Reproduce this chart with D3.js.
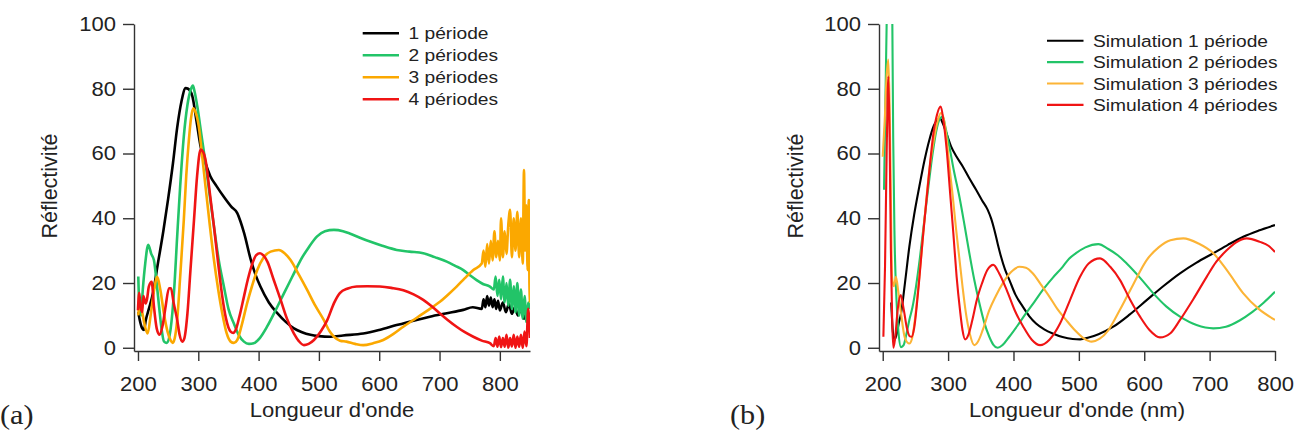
<!DOCTYPE html>
<html>
<head>
<meta charset="utf-8">
<script src="https://cdn.jsdelivr.net/npm/d3@7"></script>
<style>
  html, body { margin: 0; padding: 0; background: #fff; }
  svg { display: block; }
  text { font-family: "Liberation Sans", Arial, sans-serif; fill: #222; }
</style>
</head>
<body>
<svg id="chart" width="1315" height="441"></svg>
<script>
// ---------- DATA (wavelength nm, reflectivity %) ----------
const xTicksA = [200, 300, 400, 500, 600, 700, 800];
const xTicksB = [200, 300, 400, 500, 600, 700, 800];
const yTicks = [0, 20, 40, 60, 80, 100];

const legendA = ["1 période", "2 périodes", "3 périodes", "4 périodes"];
const legendB = ["Simulation 1 période", "Simulation 2 périodes", "Simulation 3 périodes", "Simulation 4 périodes"];
const colorsA = ["#000000", "#22c468", "#fba800", "#f01414"];
const colorsB = ["#000000", "#22c468", "#fcb436", "#f01414"];

const exp1 = [[200.5,11],[203,8.5],[207,6],[210,5.5],[213,8.6],[218,12],[225,17],[233,26],[242,36],[250,46],[258,57],[265,68],[272,76],[279,80.2],[283,80],[290,77.8],[297,70],[304,62],[312,57],[320,53],[330,50],[342,46.7],[355,43.5],[364.6,41.6],[370,39],[376,35.4],[387,27.2],[395,22.5],[403,18.9],[417,14],[431,10.7],[445,8],[458.6,6],[472,4.8],[486,4],[500,3.6],[519,3.4],[540,3.8],[573.5,4.4],[600,5.5],[628.8,7],[655,8.3],[684,9.6],[710,10.6],[739.4,11.7],[755,12.5],[770,12],[773,15],[776,12.5],[779,16],[782,13],[785,15.5],[788,12.5],[791,15],[794,12],[797,14.5],[800,11.5],[805,14],[810,11],[815,13.5],[820,10.5],[825,12.5],[830,10],[835,12],[840,9],[845,11],[850,8]];

const exp2 = [[200.5,22],[202,14],[205,10],[208,18],[212,26],[217,31.8],[222,29],[226.5,27],[231,20],[235,12.7],[239,6],[243,2],[248,1.5],[254,5.6],[260,18],[265,34.4],[270,50],[276,65.3],[282,75],[288,80],[291,81],[294,79],[298.4,74.5],[305,66],[312,57],[319,47],[326,37.4],[334,27],[342.6,18.8],[350,12],[359,7.5],[367,4],[375.7,1.9],[384,1.2],[392,1.4],[402,3],[414,6.5],[428,11.5],[442,16.8],[456,22],[469.7,27.1],[483,31],[497,34.4],[510,36],[525,36.4],[540,36],[551,35.3],[568,34],[584.6,32.8],[605,31.5],[629,30.2],[650,29.7],[673,29.2],[692,28],[712,26.6],[726,25.3],[739.4,24],[751,22.3],[761.5,20.9],[772,19.7],[783.6,18.9],[790,18],[793,22],[796,16],[799,21],[802,15],[805,22],[808,14],[811,20],[814,13],[817,21],[820,12],[823,19],[826,11],[829,20],[832,10],[835,18],[838,9],[841,16],[844,8],[847,14],[850,12]];

const exp3 = [[200.5,10],[203,14],[206,12],[210,8],[215.9,4.4],[221,10],[226,17],[232,21.9],[237,18],[243,10.6],[249,5],[254,2.4],[257.5,1.5],[261,3],[265,8.6],[270,22],[276,39.5],[280,53],[284.4,64.2],[288,71],[291.5,74],[295,73],[300.8,68.4],[306,60],[312,49.8],[319,38],[326,27.1],[333,18],[339.8,10.6],[347,4.5],[353.6,1.9],[359,1.5],[364.6,2.4],[372,7],[381,13.8],[389,19],[397.8,24],[408,27.8],[419.9,29.7],[433.7,30.2],[443,29.2],[453,27.1],[467,22.5],[480.7,17.8],[494,13],[508,8.6],[518,5],[525,3.4],[535,2.2],[545.6,1.9],[560,1.2],[573.5,0.8],[590,1.4],[606.7,2.4],[623,4.2],[639.9,6.5],[656,8.5],[673,10.6],[687,12.4],[700.6,14.2],[714,16.4],[728.3,18.9],[742,21.5],[756,24],[770,26],[773,30],[776,25],[779,32],[782,26],[785,33],[788,27],[791,36],[794,28],[797,33],[800,27],[802,40],[805,28],[808,36],[811,29],[814,38],[817,42.6],[820,28],[823,40],[826,30],[829,42],[832,28],[835,40],[838,26],[840,54.9],[842,30],[844,44],[846,24],[848,45.6],[849,20],[850,14]];

const exp4 = [[200,11.6],[202,17],[204,13],[207,11],[209,16],[212.7,13.7],[215,15],[218,18.9],[222.7,20.4],[226.5,12.7],[231,6],[236,4],[241,7],[246,13],[251.4,18.4],[254.7,18.4],[259,14],[265,8.6],[269,4],[273.4,1.9],[277,3],[282,10.6],[287,24],[292.9,39.5],[298,53],[303.8,61.2],[308,60.5],[312,58],[319,48],[326,37.4],[333,26],[339.8,15.8],[346,9],[353.6,5],[358,4.6],[362,5.5],[368,9.5],[375.7,15.8],[382,21],[389.6,26],[396,28.6],[402.3,29.2],[408,28.5],[414.5,26.6],[425,21],[436.6,14.8],[447,9],[458.6,4.4],[467,2],[475.2,0.8],[483,1.2],[491.8,2.4],[503,5],[514,8.6],[525,13.8],[534.7,16.9],[548,18.3],[562.4,18.9],[580,19],[601,18.9],[620,18.5],[640,17.8],[657,16.5],[673,14.8],[687,12.8],[700.6,10.6],[714,8.5],[728.3,6.5],[742,4.8],[756,3.4],[770,2.2],[783.6,1.4],[790,0.5],[793,3],[796,0.3],[799,3.5],[802,0.2],[805,3],[808,0.3],[811,4],[814,0],[817,3],[820,0.4],[823,4],[826,0],[829,3.5],[832,0.3],[835,4],[838,0],[841,5],[844,0.5],[847,12],[850,3]];

const sim1 = [[213,14],[215.5,5],[218,2.5],[221,4],[225,8],[228,10.6],[234,20],[240.7,31.2],[248,41],[256,49.8],[264,58],[271.3,64.2],[278,68.5],[284,70.4],[288,70.8],[291.7,69.4],[297,66.5],[304.5,62.2],[313,59],[322.4,56],[332,52.5],[342.8,48.8],[352,45.5],[360.6,42.6],[366,39.8],[370.8,36.4],[376,32],[381,28.1],[387,24.2],[393.8,20.9],[403,16.4],[414.2,12.7],[424,9.8],[434.5,7.5],[447,5.7],[460,4.4],[475,3.3],[490.6,2.7],[501.9,2.6],[515,3.2],[530,4.2],[552.7,6.5],[578,10.3],[603.7,14.7],[629,19],[654.7,23],[680,26.3],[705.6,29.2],[728,31.8],[751.5,34.3],[775,36.2],[800,37.9]];

const sim2 = [[202,48.8],[204,75],[206,100],[208,130],[210,140],[212.5,130],[214.7,100],[216,65],[218,35],[221,15],[224,5],[228,0.2],[232,0.8],[236,4],[240.7,8.6],[245.5,12.5],[250.9,18.9],[257,28],[263.7,39.5],[270,50],[276.4,60.1],[282,67],[286.6,70.4],[291.7,71.4],[296,68],[301.9,62.2],[309,54.5],[317.2,46.7],[325,38],[332.5,29.2],[340,21],[347.8,13.8],[355,8],[363,3.4],[369,1],[375.8,0],[383,0.8],[393.6,3.4],[406,6.8],[419,10.6],[432,14.2],[444.6,17.8],[460,21.6],[475.2,25],[485,27.5],[495.6,29.2],[510,31],[529.8,32],[545,30.5],[560,28.5],[573.2,26],[594,21.5],[613.9,16.8],[634,12.7],[654.7,9.6],[680,7],[705.6,6],[725,6.5],[746.5,8.5],[765,11],[783,14],[800,17.3]];

const sim3 = [[200,59],[203,70],[206,84],[208.6,89],[210.5,75],[212.5,45],[214.2,22],[217,19],[220.3,21.9],[224,17],[228,10.6],[234,3],[240.7,1.3],[245,3],[250,10],[256,22],[261,33],[266.3,45],[272,56],[278,64],[284,70],[289,72.5],[293,71],[298,64],[302,56],[307,47],[312,37],[317,28],[322,19],[327,11],[333,4.5],[340,0.8],[346,2],[353,5.5],[363,11.6],[373,16],[383.5,19.9],[396,23.3],[409,25],[419,24.7],[429.4,23],[442,19.5],[454.9,15.8],[467,12],[480.4,8.6],[494,5.4],[507,3],[519.7,1.9],[532,2.8],[545,5.4],[563,11.8],[583,19.5],[603.7,27.1],[622,31],[640,33.2],[659.8,33.8],[683,32.2],[705.6,29.2],[728,23.5],[751.5,16.8],[775,12],[800,8.6]];

const sim4 = [[201,3.4],[203.5,25],[206,60],[208.6,83.8],[210.5,65],[212.5,30],[214.5,8],[216.3,0],[219,3],[223,12],[227.5,16.3],[232,12],[237,6],[241,3.6],[244.3,3.4],[248,6],[254,17],[262,35.4],[270,52],[277.4,66],[283,72],[288.7,74.5],[293,70],[297.9,61],[303,48],[308,35.4],[313,22],[318.2,11.6],[322,5.5],[326,2.6],[331,4],[337,8.5],[343.8,14.7],[352,20],[360,24],[369.2,25.6],[378,23],[389.7,17.8],[402,11.5],[415,6.5],[428,2.5],[440.6,0.8],[455,2.5],[471.2,7.5],[486,14.5],[501.8,21.9],[515,26],[532.4,27.6],[548,25],[563,20.9],[578,15],[593.6,9.6],[608,5.5],[624.1,3.2],[640,4.5],[654.7,8.6],[675,15],[695.5,21.9],[710,26.5],[726.1,30.1],[740,32.5],[756.7,33.8],[777,32.7],[790,31.5],[800,29.6]];

const seriesA = [exp1, exp2, exp3, exp4];
const seriesB = [sim1, sim2, sim3, sim4];

// ---------- DRAWING ----------
const svg = d3.select("#chart");
const SX = 1.13; // horizontal stretch of the original raster text
const axisColor = "#333";

function panel(cfg) {
  const x = d3.scaleLinear().domain(cfg.xDomain).range(cfg.xRange);
  const y = d3.scaleLinear().domain([-1, 100]).range([351, 24]);
  const g = svg.append("g");

  const clipId = "clip" + cfg.id;
  svg.append("clipPath").attr("id", clipId).append("rect")
    .attr("x", cfg.xRange[0]).attr("y", 24)
    .attr("width", cfg.xRange[1] - cfg.xRange[0]).attr("height", 327);

  const line = d3.line().x(d => x(d[0])).y(d => y(d[1])).curve(d3.curveMonotoneX);
  const lines = g.append("g").attr("clip-path", `url(#${clipId})`);
  cfg.series.forEach((s, i) => {
    lines.append("path").attr("d", line(s)).attr("fill", "none")
      .attr("stroke", cfg.colors[i]).attr("stroke-width", cfg.lw)
      .attr("stroke-linejoin", "round");
  });

  // axes
  const xa = g.append("g").attr("transform", "translate(0,351)")
    .call(d3.axisBottom(x).tickValues(cfg.xTicks).tickSize(10).tickSizeOuter(0).tickFormat(d3.format("d")));
  xa.selectAll("text").attr("y", 39.7).attr("dy", 0)
    .attr("transform", `scale(${SX},1)`).style("font-size", "19.5px");
  const ya = g.append("g").attr("transform", `translate(${cfg.xRange[0]},0)`)
    .call(d3.axisLeft(y).tickValues(yTicks).tickSize(11).tickSizeOuter(0));
  ya.selectAll("text").attr("x", -18 / SX).attr("dy", "0.33em")
    .attr("transform", `scale(${SX},1)`).style("font-size", "19.5px");
  [xa, ya].forEach(a => {
    a.selectAll("path,line").attr("stroke", axisColor).attr("stroke-width", 1.4);
    a.selectAll("text").attr("fill", "#222").style("font-family", "Liberation Sans, Arial, sans-serif");
  });

  // axis titles
  const cx = (cfg.xRange[0] + cfg.xRange[1]) / 2;
  g.append("text").attr("transform", `translate(${cx},416.7) scale(${SX},1)`)
    .attr("text-anchor", "middle").style("font-size", "19.5px").text(cfg.xTitle);
  g.append("text").attr("transform", `translate(${cfg.yTitleX},186) rotate(-90)`)
    .attr("text-anchor", "middle").style("font-size", "21.5px").text("Réflectivité");

  // legend
  cfg.legend.forEach((t, i) => {
    const ly = cfg.legY + i * cfg.legDy;
    g.append("line").attr("x1", cfg.legX1).attr("x2", cfg.legX2)
      .attr("y1", ly).attr("y2", ly).attr("stroke", cfg.colors[i]).attr("stroke-width", cfg.legLw);
    g.append("text").attr("transform", `translate(${cfg.legX2 + 9.5},${ly + 6}) scale(${SX},1)`)
      .style("font-size", "17px").text(t);
  });

  // panel letter
  g.append("text").attr("transform", `translate(${cfg.letterX},423.5) scale(1.12,1)`)
    .style("font-family", "Liberation Serif, 'Times New Roman', serif")
    .style("font-size", "27px").attr("fill", "#222").text(cfg.letter);
}

panel({
  id: "A", xDomain: [193.4, 850], xRange: [134, 530], xTicks: xTicksA,
  series: seriesA, colors: colorsA, lw: 2.6,
  xTitle: "Longueur d'onde", yTitleX: 56.5,
  legend: legendA, legX1: 362.7, legX2: 399, legY: 33.3, legDy: 22, legLw: 2.6,
  letter: "(a)", letterX: 0
});

panel({
  id: "B", xDomain: [194.3, 800], xRange: [879, 1275], xTicks: xTicksB,
  series: seriesB, colors: colorsB, lw: 2.1,
  xTitle: "Longueur d'onde (nm)", yTitleX: 802.5,
  legend: legendB, legX1: 1047, legX2: 1083.5, legY: 40.7, legDy: 21.4, legLw: 2.1,
  letter: "(b)", letterX: 730
});
</script>
</body>
</html>
